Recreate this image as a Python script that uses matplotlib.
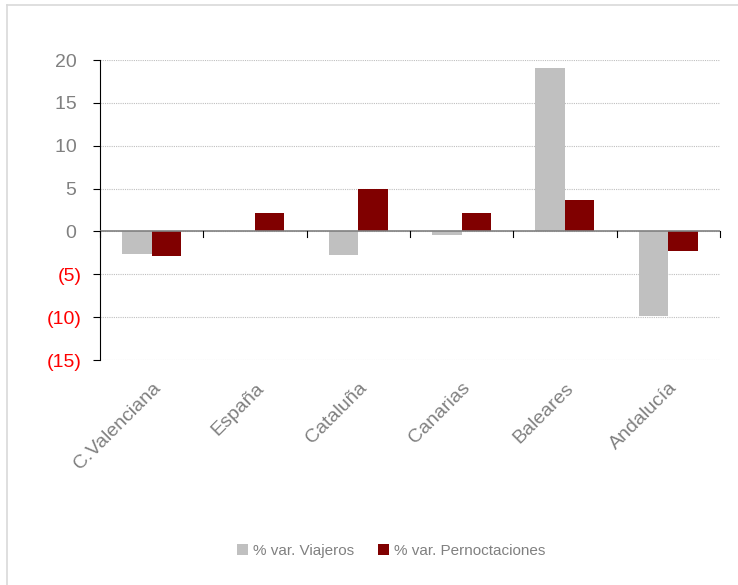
import numpy as np
import matplotlib.pyplot as plt
from matplotlib.lines import Line2D

plt.rcParams['font.family'] = ['Liberation Sans', 'DejaVu Sans']

# Data
regiones = ['C.Valenciana', 'España', 'Cataluña', 'Canarias', 'Baleares', 'Andalucía']
viajeros = [-2.6, 0.0, -2.8, -0.45, 19.1, -9.9]
pernoctaciones = [-2.9, 2.2, 4.9, 2.1, 3.7, -2.3]
yticks = [-15, -10, -5, 0, 5, 10, 15, 20]

grey = '#c0c0c0'
darkred = '#800000'
label_grey = '#808080'

fig = plt.figure(figsize=(7.38, 5.85), dpi=100)
# outer frame (only top and left edges are visible in the picture)
fig.add_artist(Line2D([7 / 738, 1], [1 - 5 / 585] * 2, color='#d9d9d9', lw=1.2))
fig.add_artist(Line2D([7 / 738] * 2, [0, 1 - 5 / 585], color='#d9d9d9', lw=1.2))

ax = fig.add_axes([0.1355, 0.3846, 0.84, 0.5128])

x = np.arange(len(regiones))
w = 0.285
ax.bar(x - w / 2, viajeros, w, color=grey, label='% var. Viajeros')
ax.bar(x + w / 2, pernoctaciones, w, color=darkred, label='% var. Pernoctaciones')

ax.set_xlim(-0.5, len(regiones) - 0.5)
ax.set_ylim(-15, 20)
ax.set_yticks(yticks)
ax.set_yticklabels([str(v) + ' ' if v >= 0 else '(%d)' % -v for v in yticks], fontsize=14)
for lbl, v in zip(ax.get_yticklabels(), yticks):
    lbl.set_color(label_grey if v >= 0 else 'red')
ax.tick_params(axis='y', length=5, direction='out', color='black', pad=8)

ax.grid(axis='y', linestyle=(0, (1, 1)), color='#bfbfbf', linewidth=0.8)
ax.set_axisbelow(True)

for s in ['top', 'right', 'bottom']:
    ax.spines[s].set_visible(False)
ax.spines['left'].set_color('black')
ax.axhline(0, color='#808080', linewidth=1.2, zorder=3)

# category labels and boundary ticks
ax.set_xticks(x)
ax.set_xticklabels(regiones, rotation=45, ha='right', rotation_mode='anchor',
                   fontsize=14, color=label_grey)
ax.tick_params(axis='x', which='major', length=0, pad=14)
for b in np.arange(-0.5, len(regiones), 1.0):
    ax.plot([b, b], [0, -0.6], color='black', linewidth=0.8, zorder=4, clip_on=False)

fig.legend(loc='center', bbox_to_anchor=(0.53, 0.058), ncol=2, frameon=False,
           fontsize=11, handlelength=0.7, handleheight=0.7, handletextpad=0.3,
           columnspacing=1.6, labelcolor=label_grey)

fig.savefig('out.png', dpi=100)
